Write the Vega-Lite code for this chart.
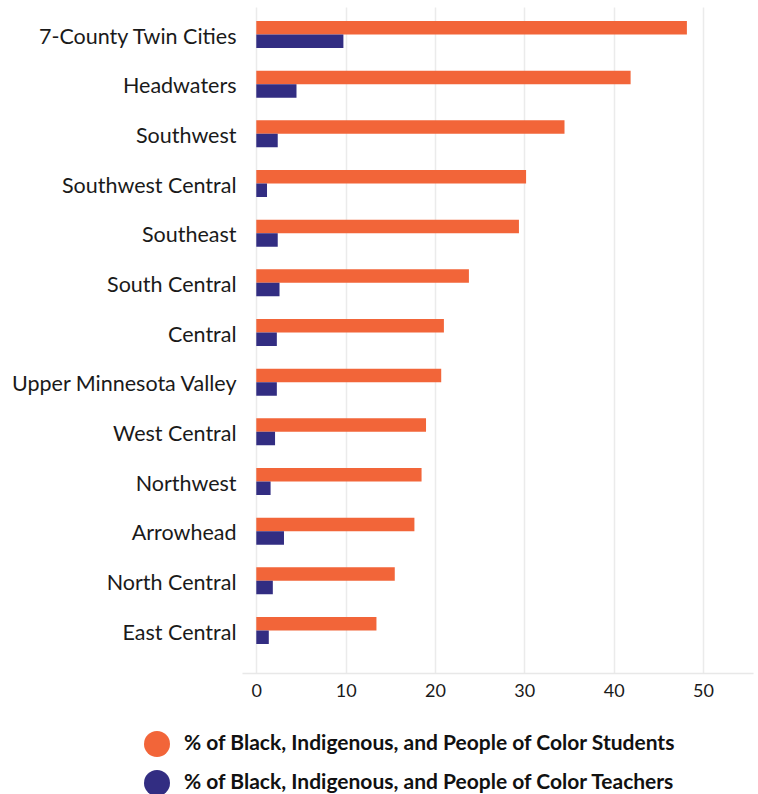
{
  "$schema": "https://vega.github.io/schema/vega-lite/v6.json",
  "width": 511,
  "height": 666,
  "padding": {"left": 10, "top": 7, "right": 4, "bottom": 5},
  "background": "white",
  "config": {
    "font": "Lato",
    "view": {"stroke": null}
  },
  "data": {
    "values": [
      {"region": "7-County Twin Cities", "series": "% of Black, Indigenous, and People of Color Students", "value": 48.2},
      {"region": "7-County Twin Cities", "series": "% of Black, Indigenous, and People of Color Teachers", "value": 9.75},
      {"region": "Headwaters", "series": "% of Black, Indigenous, and People of Color Students", "value": 41.9},
      {"region": "Headwaters", "series": "% of Black, Indigenous, and People of Color Teachers", "value": 4.5},
      {"region": "Southwest", "series": "% of Black, Indigenous, and People of Color Students", "value": 34.5},
      {"region": "Southwest", "series": "% of Black, Indigenous, and People of Color Teachers", "value": 2.4},
      {"region": "Southwest Central", "series": "% of Black, Indigenous, and People of Color Students", "value": 30.2},
      {"region": "Southwest Central", "series": "% of Black, Indigenous, and People of Color Teachers", "value": 1.2},
      {"region": "Southeast", "series": "% of Black, Indigenous, and People of Color Students", "value": 29.4},
      {"region": "Southeast", "series": "% of Black, Indigenous, and People of Color Teachers", "value": 2.4},
      {"region": "South Central", "series": "% of Black, Indigenous, and People of Color Students", "value": 23.8},
      {"region": "South Central", "series": "% of Black, Indigenous, and People of Color Teachers", "value": 2.6},
      {"region": "Central", "series": "% of Black, Indigenous, and People of Color Students", "value": 21.0},
      {"region": "Central", "series": "% of Black, Indigenous, and People of Color Teachers", "value": 2.3},
      {"region": "Upper Minnesota Valley", "series": "% of Black, Indigenous, and People of Color Students", "value": 20.7},
      {"region": "Upper Minnesota Valley", "series": "% of Black, Indigenous, and People of Color Teachers", "value": 2.3},
      {"region": "West Central", "series": "% of Black, Indigenous, and People of Color Students", "value": 19.0},
      {"region": "West Central", "series": "% of Black, Indigenous, and People of Color Teachers", "value": 2.1},
      {"region": "Northwest", "series": "% of Black, Indigenous, and People of Color Students", "value": 18.5},
      {"region": "Northwest", "series": "% of Black, Indigenous, and People of Color Teachers", "value": 1.6},
      {"region": "Arrowhead", "series": "% of Black, Indigenous, and People of Color Students", "value": 17.7},
      {"region": "Arrowhead", "series": "% of Black, Indigenous, and People of Color Teachers", "value": 3.1},
      {"region": "North Central", "series": "% of Black, Indigenous, and People of Color Students", "value": 15.5},
      {"region": "North Central", "series": "% of Black, Indigenous, and People of Color Teachers", "value": 1.85},
      {"region": "East Central", "series": "% of Black, Indigenous, and People of Color Students", "value": 13.45},
      {"region": "East Central", "series": "% of Black, Indigenous, and People of Color Teachers", "value": 1.4}
    ]
  },
  "mark": {"type": "bar"},
  "encoding": {
    "y": {
      "field": "region",
      "type": "nominal",
      "sort": null,
      "scale": {"paddingInner": 0.457, "paddingOuter": 0.433, "align": 0.326},
      "axis": {
        "title": null,
        "domain": false,
        "ticks": false,
        "grid": false,
        "labelFontSize": 21.5,
        "labelColor": "#1a1a1a",
        "labelPadding": 6,
        "labelLimit": 400,
        "labelOffset": 3
      }
    },
    "yOffset": {
      "field": "series",
      "type": "nominal",
      "scale": {"paddingInner": 0, "paddingOuter": 0}
    },
    "x": {
      "field": "value",
      "type": "quantitative",
      "scale": {"domain": [-1.6, 55.6], "nice": false, "zero": false},
      "axis": {
        "title": null,
        "values": [0, 10, 20, 30, 40, 50],
        "ticks": false,
        "domainColor": "#e8e8e8",
        "domainWidth": 1.5,
        "gridColor": "#ebebeb",
        "gridWidth": 1.5,
        "labelFontSize": 18,
        "labelColor": "#1a1a1a",
        "labelPadding": 9,
        "labelFlush": false
      }
    },
    "x2": {"datum": 0},
    "color": {
      "field": "series",
      "type": "nominal",
      "scale": {"range": ["#F26539", "#322D82"]},
      "legend": {
        "title": null,
        "orient": "none",
        "legendX": -98,
        "legendY": 724,
        "direction": "vertical",
        "symbolType": "circle",
        "symbolSize": 676,
        "symbolStrokeWidth": 0,
        "symbolOpacity": 1,
        "labelFontSize": 21,
        "labelFontWeight": "bold",
        "labelColor": "#111111",
        "labelLimit": 700,
        "rowPadding": 13,
        "labelOffset": 14
      }
    }
  }
}
